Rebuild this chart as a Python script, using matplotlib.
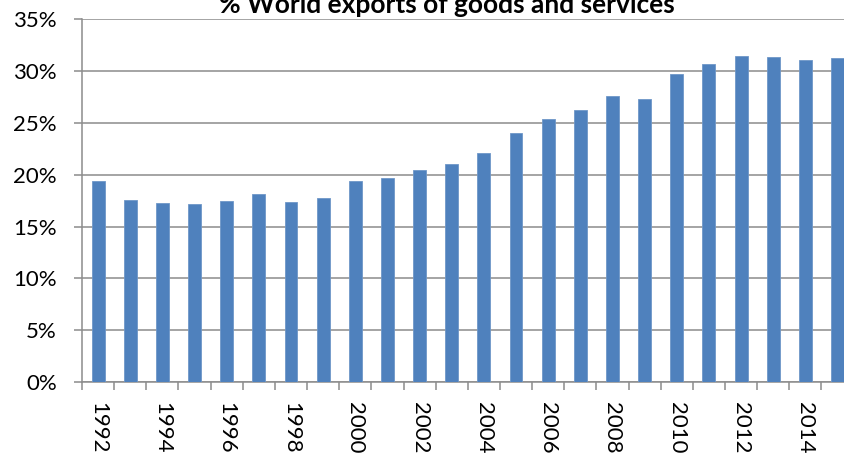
import numpy as np
import matplotlib
matplotlib.use('Agg')
import matplotlib.pyplot as plt
from matplotlib.ticker import FixedLocator, FuncFormatter

# data (% of world exports of goods and services)
years = list(range(1992, 2016))
share = [19.4, 17.6, 17.3, 17.2, 17.5, 18.1, 17.4, 17.7, 19.4, 19.7, 20.4, 21.0,
         22.1, 24.0, 25.4, 26.2, 27.6, 27.3, 29.7, 30.6, 31.4, 31.3, 31.0, 31.2]
yticks = [0, 5, 10, 15, 20, 25, 30, 35]
title = '% World exports of goods and services'

plt.rcParams['font.family'] = ['Lato', 'DejaVu Sans']
grey = '#8c8c8c'

fig = plt.figure(figsize=(8.44, 4.54), dpi=100)
# axes runs a bit past the right edge like the cropped original
ax = fig.add_axes([82/844, (454-382.3)/454, 771.6/844, 363.5/454])

x = np.arange(len(years))
ax.bar(x, share, width=0.4, color='#4f81bd', edgecolor='#6f97c8', linewidth=0.6, zorder=3)

ax.set_xlim(-0.5, len(years) - 0.5)
ax.set_ylim(0, 35)

ax.set_yticks(yticks)
ax.yaxis.set_major_formatter(FuncFormatter(lambda v, p: '%d%%' % v))
ax.grid(axis='y', color=grey, linewidth=1.1, zorder=0)

# tick marks between the bars, labels under every other bar
ax.xaxis.set_major_locator(FixedLocator(np.arange(-0.5, len(years), 1.0)))
ax.xaxis.set_major_formatter(FuncFormatter(lambda v, p: ''))
ax.xaxis.set_minor_locator(FixedLocator(x[::2]))
ax.set_xticklabels([str(y) for y in years[::2]], minor=True)
ax.tick_params(axis='x', which='major', length=6, width=1.1, color=grey, direction='out')
ax.tick_params(axis='x', which='minor', length=0, pad=14, labelsize=16, labelrotation=270)
ax.tick_params(axis='y', length=6, width=1.1, color=grey, pad=12, labelsize=16)
for lab in ax.get_xticklabels(minor=True):
    lab.set_verticalalignment('top')
    lab.set_horizontalalignment('center')

for s in ['top', 'right']:
    ax.spines[s].set_visible(False)
for s in ['left', 'bottom']:
    ax.spines[s].set_color(grey)
    ax.spines[s].set_linewidth(1.1)

# title sits half outside the top edge, as in the original
fig.text(447/844, 441/454, title, ha='center', va='baseline', fontsize=19, fontweight='bold')

fig.savefig('out.png', dpi=100)
